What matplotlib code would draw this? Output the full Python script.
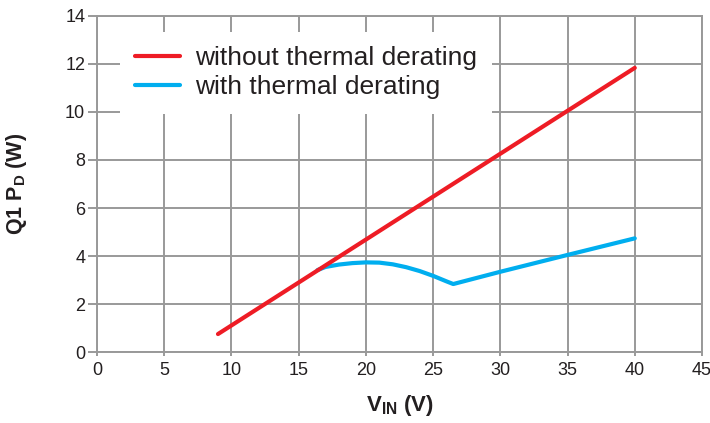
import matplotlib
matplotlib.use("Agg")
import matplotlib.pyplot as plt

plt.rcParams['font.family'] = ['Liberation Sans', 'DejaVu Sans']
plt.rcParams['mathtext.fontset'] = 'custom'
plt.rcParams['mathtext.rm'] = 'Liberation Sans'
plt.rcParams['mathtext.bf'] = 'Liberation Sans:bold'

# Data
vin_red = [9, 40]
pd_red = [0.76, 11.83]

vin_blue = [16.4, 17, 18, 19, 20, 21, 22, 23, 24, 25, 26, 26.5, 30, 35, 40]
pd_blue = [3.42, 3.55, 3.65, 3.71, 3.74, 3.73, 3.66, 3.54, 3.38, 3.18, 2.95, 2.84, 3.35, 4.05, 4.74]

xticks = [0, 5, 10, 15, 20, 25, 30, 35, 40, 45]
yticks = [0, 2, 4, 6, 8, 10, 12, 14]

label_red = "without thermal derating"
label_blue = "with thermal derating"

grid_c = '#999999'
txt_c = '#231f20'

fig = plt.figure(figsize=(7.10, 4.23), dpi=100)
ax = fig.add_axes([0.1366, 0.1671, 0.8521, 0.7958])

ax.plot(vin_red, pd_red, color='#ee1c25', lw=3.0, solid_capstyle='round', label=label_red, zorder=3)
ax.plot(vin_blue, pd_blue, color='#00aeef', lw=3.0, solid_capstyle='round', label=label_blue, zorder=2)

ax.set_xlim(0, 45)
ax.set_ylim(0, 14)
ax.set_xticks(xticks)
ax.set_yticks(yticks)
ax.grid(True, color=grid_c, lw=1.4)
ax.set_axisbelow(True)
for s in ax.spines.values():
    s.set_color(grid_c)
    s.set_linewidth(1.4)
ax.tick_params(axis='x', length=3, width=1.4, color=grid_c, labelsize=13, labelcolor=txt_c, pad=4)
ax.tick_params(axis='y', length=6.5, width=1.4, color=grid_c, labelsize=13, labelcolor=txt_c, pad=2)

ax.set_xlabel(r'$\mathbf{V_{IN}}$ (V)', fontsize=16, fontweight='bold', color=txt_c, labelpad=10)
ax.set_ylabel(r'Q1 $\mathbf{P_{D}}$ (W)', fontsize=15.5, fontweight='bold', color=txt_c, labelpad=26)

leg = ax.legend(loc='upper left', bbox_to_anchor=(0.0385, 0.953), fontsize=19,
                frameon=True, fancybox=False, edgecolor='none', facecolor='white', framealpha=1,
                handlelength=1.7, handletextpad=0.6, labelspacing=0.2, borderpad=0.55,
                borderaxespad=0)
for t in leg.get_texts():
    t.set_color(txt_c)

fig.savefig('out.png', dpi=100)
